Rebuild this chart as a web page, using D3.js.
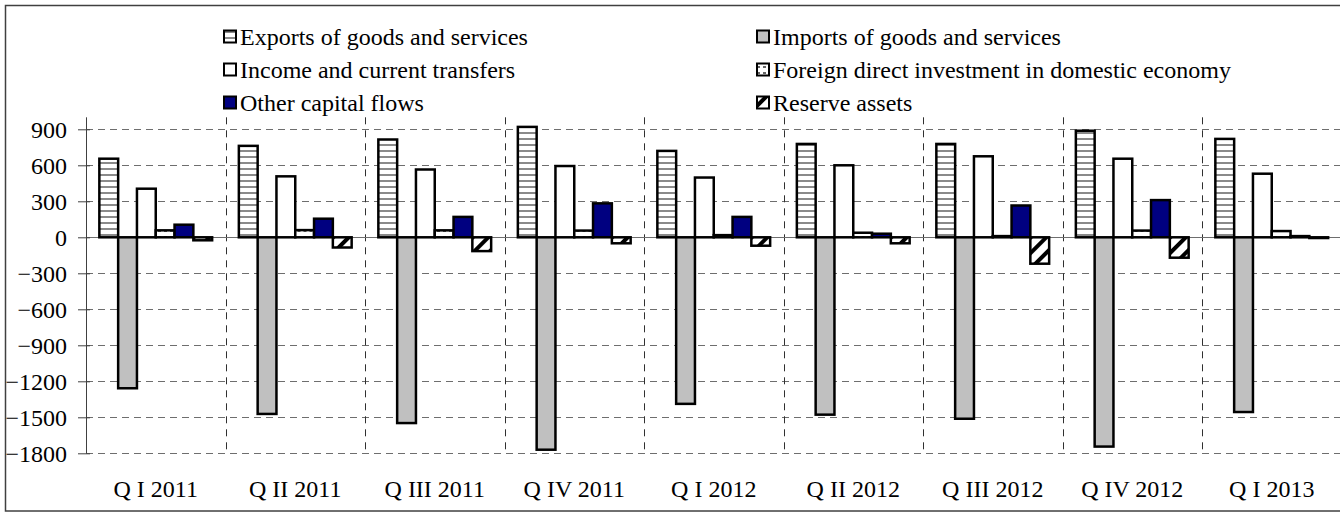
<!DOCTYPE html>
<html>
<head>
<meta charset="utf-8">
<script src="https://cdn.jsdelivr.net/npm/d3@7"></script>
<style>
  html, body { margin: 0; padding: 0; background: #fff; }
  svg { display: block; }
</style>
</head>
<body>
<svg id="chart" width="1340" height="512"></svg>
<script>
// Balance of payments components by quarter
const categories = ["Q I 2011", "Q II 2011", "Q III 2011", "Q IV 2011", "Q I 2012", "Q II 2012", "Q III 2012", "Q IV 2012", "Q I 2013"];
const exportsGS    = [655, 762, 815, 920, 720, 778, 778, 888, 820];
const importsGS    = [-1258, -1472, -1548, -1770, -1388, -1478, -1512, -1744, -1456];
const incomeCT     = [405, 508, 565, 594, 498, 600, 675, 655, 530];
const fdiDomestic  = [58, 60, 58, 56, 18, 38, 10, 56, 52];
const otherCapital = [105, 155, 170, 283, 170, 30, 265, 310, 10];
const reserveAssets = [-25, -85, -115, -50, -70, -50, -220, -170, -6];
const seriesNames = [
  "Exports of goods and services",
  "Imports of goods and services",
  "Income and current transfers",
  "Foreign direct investment in domestic economy",
  "Other capital flows",
  "Reserve assets"
];
const yTicks = [900, 600, 300, 0, -300, -600, -900, -1200, -1500, -1800];

const seriesValues = [exportsGS, importsGS, incomeCT, fdiDomestic, otherCapital, reserveAssets];
const fills = ["url(#pExports)", "#c0c0c0", "#ffffff", "url(#pFdi)", "#000080", "url(#pReserve)"];
const FONT = '"Liberation Serif", "Times New Roman", serif';
const FONT_SIZE = "24px";

const svg = d3.select("#chart");

// fill patterns
const defs = svg.append("defs");
const pe = defs.append("pattern").attr("id", "pExports").attr("patternUnits", "userSpaceOnUse")
  .attr("width", 6).attr("height", 6);
pe.append("rect").attr("width", 6).attr("height", 6).attr("fill", "#fff");
pe.append("rect").attr("y", 0).attr("width", 6).attr("height", 2).attr("fill", "#8a8a8a");

const pf = defs.append("pattern").attr("id", "pFdi").attr("patternUnits", "userSpaceOnUse")
  .attr("width", 6).attr("height", 6);
pf.append("rect").attr("width", 6).attr("height", 6).attr("fill", "#fff");
pf.append("rect").attr("x", 0).attr("y", 2).attr("width", 3).attr("height", 2).attr("fill", "#666");

const pr = defs.append("pattern").attr("id", "pReserve").attr("patternUnits", "userSpaceOnUse")
  .attr("width", 11).attr("height", 11).attr("patternTransform", "rotate(45)");
pr.append("rect").attr("width", 11).attr("height", 11).attr("fill", "#fff");
pr.append("rect").attr("x", 0).attr("width", 4).attr("height", 11).attr("fill", "#000");

// outer frame
svg.append("rect").attr("x", 5.5).attr("y", 5.5).attr("width", 1345).attr("height", 505.5)
  .attr("fill", "#fff").attr("stroke", "#404040").attr("stroke-width", 1.5);

const plotLeft = 86, plotRight = 1341.5;
const y = d3.scaleLinear().domain([-1800, 1000]).range([453.3, 117.3]);
const x0 = d3.scaleBand().domain(categories).range([plotLeft, plotRight]).paddingInner(0).paddingOuter(0);
const x1 = d3.scaleBand().domain(d3.range(seriesNames.length)).range([0, x0.bandwidth()])
  .paddingInner(0).paddingOuter(0.71);

// horizontal grid
svg.append("g").selectAll("line").data(yTicks.filter(v => v !== 0)).join("line")
  .attr("x1", plotLeft).attr("x2", plotRight)
  .attr("y1", d => Math.round(y(d)) + 0.5).attr("y2", d => Math.round(y(d)) + 0.5)
  .attr("stroke", "#6e6e6e").attr("stroke-width", 1).attr("stroke-dasharray", "7,5");

// category separators
svg.append("g").selectAll("line").data(categories.slice(1)).join("line")
  .attr("x1", d => Math.round(x0(d)) + 0.5).attr("x2", d => Math.round(x0(d)) + 0.5)
  .attr("y1", y(1000)).attr("y2", y(-1800))
  .attr("stroke", "#303030").attr("stroke-width", 1).attr("stroke-dasharray", "7,6");

// zero line
svg.append("line").attr("x1", plotLeft).attr("x2", plotRight)
  .attr("y1", Math.round(y(0)) + 0.5).attr("y2", Math.round(y(0)) + 0.5)
  .attr("stroke", "#6e6e6e").attr("stroke-width", 1.2);

// bars
const groups = svg.append("g").selectAll("g").data(categories).join("g")
  .attr("transform", d => `translate(${x0(d)},0)`);
groups.selectAll("rect")
  .data((c, i) => seriesValues.map((vals, s) => ({ s, v: vals[i] })))
  .join("rect")
  .attr("x", d => x1(d.s))
  .attr("width", x1.bandwidth())
  .attr("y", d => y(Math.max(0, d.v)))
  .attr("height", d => Math.abs(y(d.v) - y(0)))
  .attr("fill", d => fills[d.s])
  .attr("stroke", "#000").attr("stroke-width", 2.5);

// value axis
const yAxis = d3.axisLeft(y).tickValues(yTicks).tickSizeOuter(0).tickSizeInner(8).tickPadding(11)
  .tickFormat(d3.format("d"));
const ya = svg.append("g").attr("transform", `translate(${plotLeft},0)`).call(yAxis);
ya.select(".domain").remove();
ya.selectAll(".tick line").attr("x1", 4).attr("x2", -8).attr("stroke", "#404040");
ya.selectAll(".tick text").attr("x", -19).attr("dy", "0.36em").attr("fill", "#000")
  .style("font-family", FONT).style("font-size", FONT_SIZE);
ya.append("line").attr("x1", 0.5).attr("x2", 0.5).attr("y1", y(1000)).attr("y2", y(-1800))
  .attr("stroke", "#404040").attr("stroke-width", 1);

// category axis labels
const xAxis = d3.axisBottom(x0).tickSize(0).tickPadding(0);
const xa = svg.append("g").attr("transform", `translate(0,${y(-1800)})`).call(xAxis);
xa.select(".domain").remove();
xa.selectAll(".tick text").attr("y", 497 - y(-1800)).attr("dy", 0).attr("fill", "#000")
  .style("font-family", FONT).style("font-size", FONT_SIZE);

// legend
const legendPos = [[224, 37], [757, 37], [224, 70], [757, 70], [224, 103], [757, 103]];
const legend = svg.append("g").selectAll("g").data(seriesNames).join("g")
  .attr("transform", (d, i) => `translate(${legendPos[i][0]},${legendPos[i][1]})`);
legend.append("rect").attr("x", 0).attr("y", -6.5).attr("width", 12).attr("height", 12)
  .attr("fill", (d, i) => fills[i]).attr("stroke", "#000").attr("stroke-width", 2);
legend.append("text").attr("x", 16).attr("y", 0).attr("dy", "0.35em").attr("fill", "#000")
  .style("font-family", FONT).style("font-size", FONT_SIZE).text(d => d);
</script>
</body>
</html>
